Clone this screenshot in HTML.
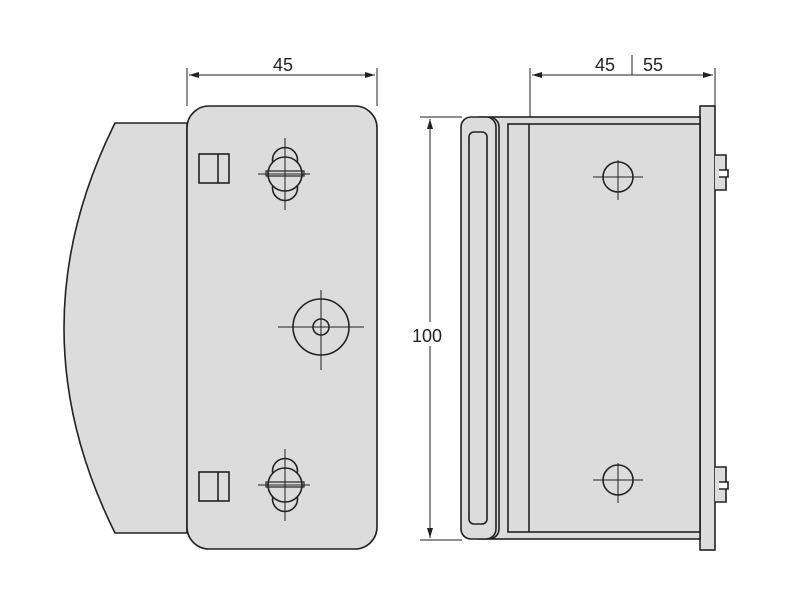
<!DOCTYPE html>
<html><head><style>body{margin:0;background:#fff}svg{display:block}</style></head><body>
<svg width="800" height="600" viewBox="0 0 800 600" xmlns="http://www.w3.org/2000/svg" font-family="Liberation Sans, sans-serif">
<defs><marker id="a" viewBox="0 0 10 6" refX="10" refY="3" markerWidth="10" markerHeight="6" orient="auto-start-reverse"><path d="M0,0L10,3L0,6z" fill="#222"/></marker></defs>
<g stroke="#222" stroke-width="1.6" fill="#dcdcdc">
<!-- left view -->
<path d="M187,123 L115,123 Q13,328 115,533 L187,533 Z"/>
<rect x="187" y="106" width="190" height="443" rx="22"/>
<rect x="199" y="154" width="30" height="29" fill="none"/><line x1="218" y1="154" x2="218" y2="183"/>
<rect x="199" y="472" width="30" height="29" fill="none"/><line x1="218" y1="472" x2="218" y2="501"/>
<g id="s"><circle cx="285" cy="160" r="12.5"/><circle cx="285" cy="188" r="12.5"/><circle cx="285" cy="174" r="17"/>
<rect x="266" y="171" width="38" height="5" fill="none" stroke-width="1.2"/><line x1="258" y1="174" x2="310" y2="174" stroke-width="1"/><line x1="285" y1="138" x2="285" y2="210" stroke-width="1"/></g>
<use href="#s" transform="translate(0,311)"/>
<circle cx="321" cy="327" r="28"/><circle cx="321" cy="327" r="8"/>
<line x1="278" y1="327" x2="364" y2="327" stroke-width="1"/><line x1="321" y1="290" x2="321" y2="370" stroke-width="1"/>
<!-- right view -->
<rect x="700" y="106" width="15" height="444"/>
<path d="M715,155h11v35h-11M715,467h11v35h-11"/><path d="M719,170h9v7h-9M719,482h9v7h-9" fill="#fff"/>
<rect x="490" y="117" width="210" height="422"/>
<rect x="508" y="124" width="192" height="408"/>
<line x1="529" y1="124" x2="529" y2="532"/>
<rect x="470" y="117" width="29" height="422" rx="10"/>
<rect x="461" y="117" width="35" height="422" rx="10"/>
<rect x="469" y="132" width="18" height="392" rx="5"/>
<circle cx="618" cy="177" r="15" fill="none"/><circle cx="618" cy="480" r="15" fill="none"/>
<g stroke-width="1" fill="none"><path d="M593,177h50M618,160v40M593,480h50M618,463v40"/></g>
</g>
<g stroke="#222" stroke-width="1" fill="none">
<path d="M187,68V106M377,68V106M530,68V117M715,68V106M632,55V75"/>
<line x1="189" y1="75" x2="375" y2="75" marker-start="url(#a)" marker-end="url(#a)"/>
<line x1="532" y1="75" x2="713" y2="75" marker-start="url(#a)" marker-end="url(#a)"/>
<path d="M420,117H462M420,540H462"/>
<line x1="430" y1="119" x2="430" y2="538" marker-start="url(#a)" marker-end="url(#a)"/>
</g>
<g font-size="18" fill="#222">
<text x="283" y="71" text-anchor="middle">45</text>
<text x="605" y="71" text-anchor="middle">45</text>
<text x="653" y="71" text-anchor="middle">55</text>
<rect x="405" y="322" width="44" height="24" fill="#fff"/>
<text x="427" y="342" text-anchor="middle">100</text>
</g>
</svg>
</body></html>
